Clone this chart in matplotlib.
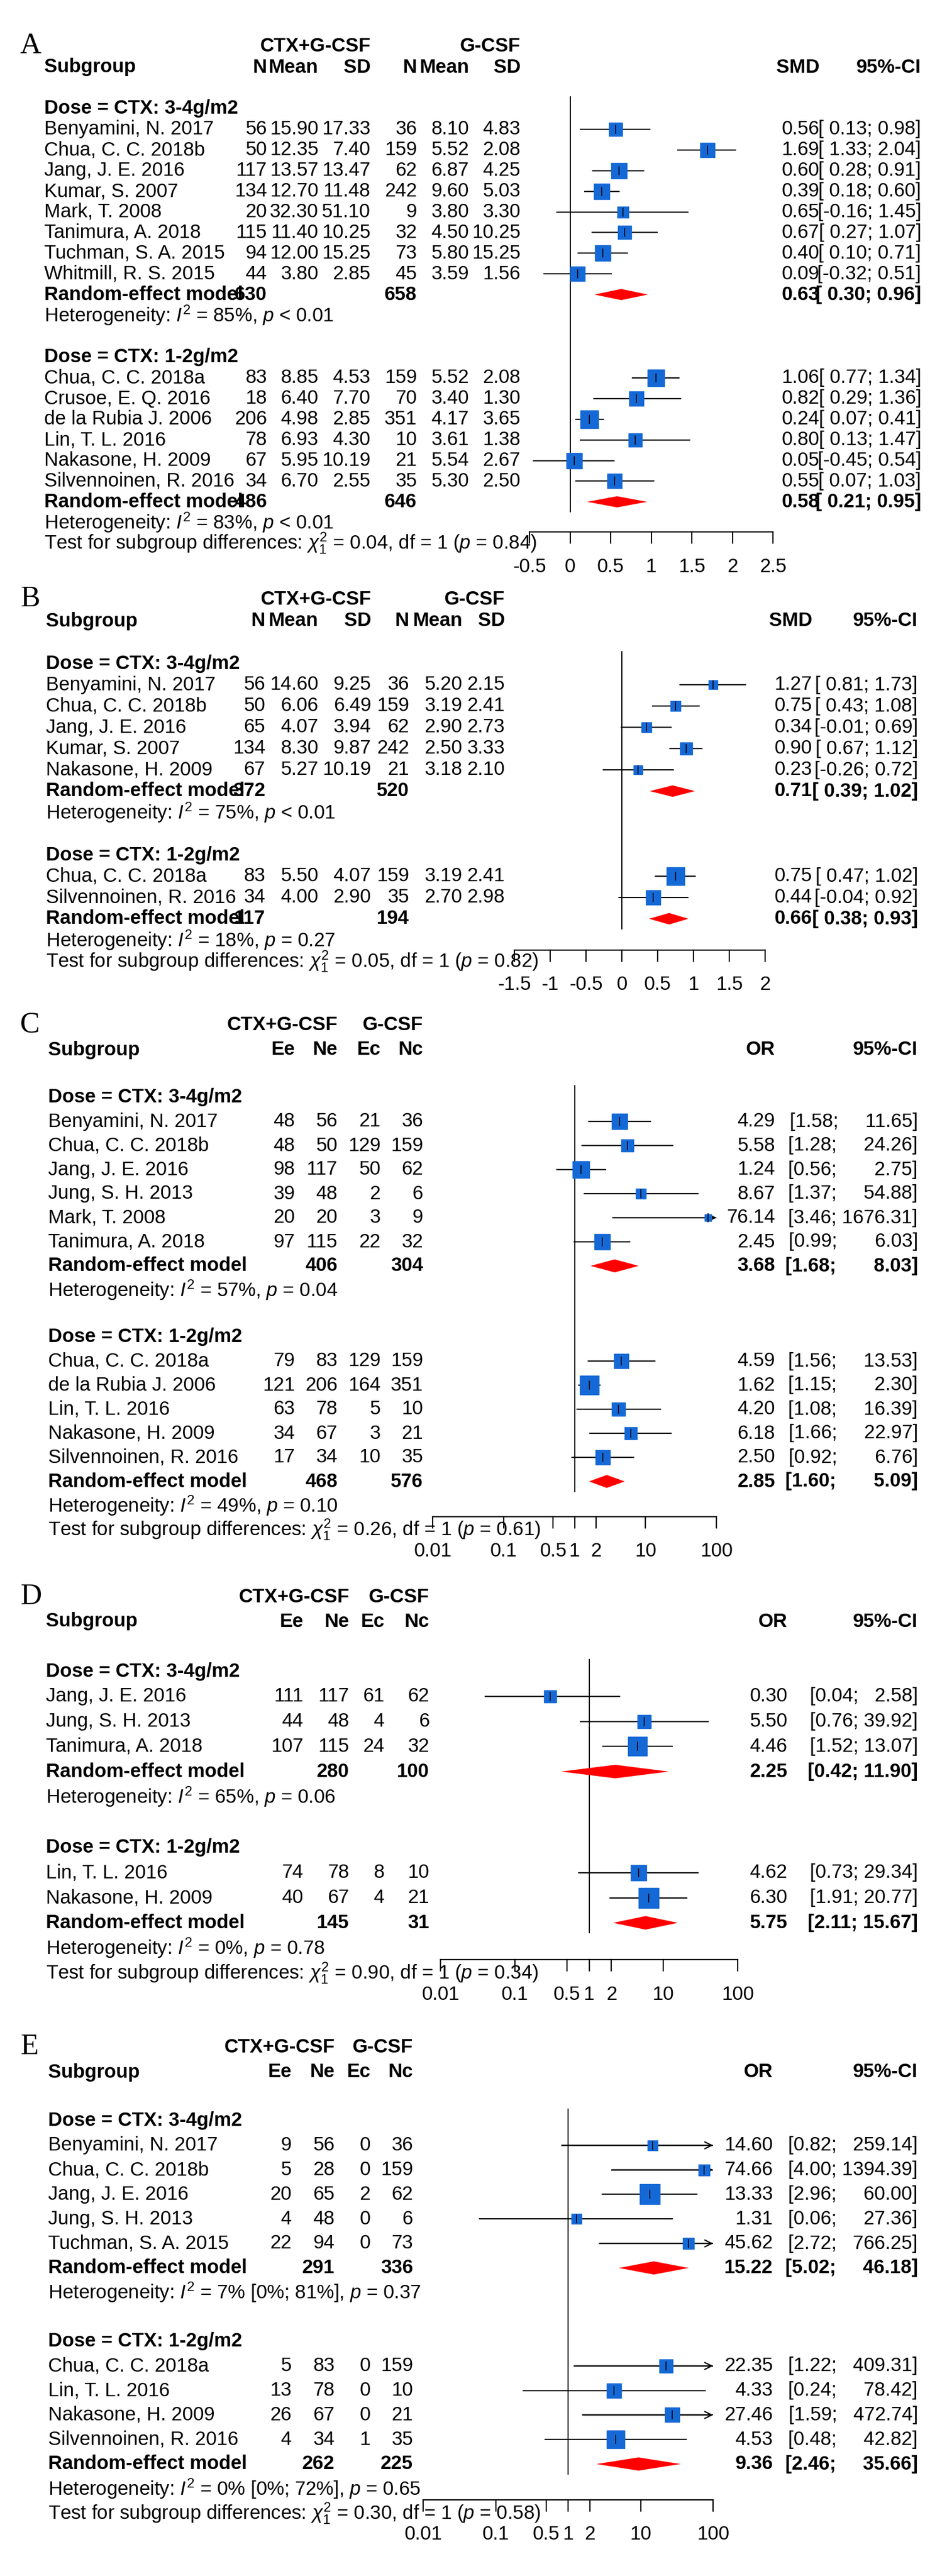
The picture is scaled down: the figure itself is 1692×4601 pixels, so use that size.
import numpy as np
import matplotlib
matplotlib.use('Agg')
import matplotlib.pyplot as plt
import matplotlib.font_manager as fm

# ---------------------------------------------------------------- fonts
_names = {f.name for f in fm.fontManager.ttflist}
BODY = 'Liberation Sans Narrow' if 'Liberation Sans Narrow' in _names else 'Liberation Sans'
FS = 27 if BODY.endswith('Narrow') else 25
plt.rcParams['font.family'] = [BODY, 'DejaVu Sans']
plt.rcParams['mathtext.fontset'] = 'custom'
plt.rcParams['mathtext.rm'] = BODY
plt.rcParams['mathtext.it'] = BODY + ':italic'
plt.rcParams['mathtext.bf'] = BODY + ':bold'

SQ_COLOR = '#1569D6'
DIA_COLOR = '#FF0000'
W, H = 1692, 4601

# ---------------------------------------------------------------- data A (SMD)
A_study = ['Benyamini, N. 2017', 'Chua, C. C. 2018b', 'Jang, J. E. 2016', 'Kumar, S. 2007',
           'Mark, T. 2008', 'Tanimura, A. 2018', 'Tuchman, S. A. 2015', 'Whitmill, R. S. 2015',
           'Chua, C. C. 2018a', 'Crusoe, E. Q. 2016', 'de la Rubia J. 2006', 'Lin, T. L. 2016',
           'Nakasone, H. 2009', 'Silvennoinen, R. 2016']
A_n_e = [56, 50, 117, 134, 20, 115, 94, 44, 83, 18, 206, 78, 67, 34]
A_mean_e = [15.90, 12.35, 13.57, 12.70, 32.30, 11.40, 12.00, 3.80, 8.85, 6.40, 4.98, 6.93, 5.95, 6.70]
A_sd_e = [17.33, 7.40, 13.47, 11.48, 51.10, 10.25, 15.25, 2.85, 4.53, 7.70, 2.85, 4.30, 10.19, 2.55]
A_n_c = [36, 159, 62, 242, 9, 32, 73, 45, 159, 70, 351, 10, 21, 35]
A_mean_c = [8.10, 5.52, 6.87, 9.60, 3.80, 4.50, 5.80, 3.59, 5.52, 3.40, 4.17, 3.61, 5.54, 5.30]
A_sd_c = [4.83, 2.08, 4.25, 5.03, 3.30, 10.25, 15.25, 1.56, 2.08, 1.30, 3.65, 1.38, 2.67, 2.50]
A_est = [0.56, 1.69, 0.60, 0.39, 0.65, 0.67, 0.40, 0.09, 1.06, 0.82, 0.24, 0.80, 0.05, 0.55]
A_lo = [0.13, 1.33, 0.28, 0.18, -0.16, 0.27, 0.10, -0.32, 0.77, 0.29, 0.07, 0.13, -0.45, 0.07]
A_hi = [0.98, 2.04, 0.91, 0.60, 1.45, 1.07, 0.71, 0.51, 1.34, 1.36, 0.41, 1.47, 0.54, 1.03]
A_size = [24, 26, 28, 28, 20, 24, 28, 26, 30, 26, 32, 24, 28, 26]
A_count = [8, 6]
A_re_est = [0.63, 0.58]
A_re_lo = [0.30, 0.21]
A_re_hi = [0.96, 0.95]
A_re_ne = [630, 486]
A_re_nc = [658, 646]
A_het = [r'85%, $p$ < 0.01', r'83%, $p$ < 0.01']
A_test = ['0.04', '0.84']

# ---------------------------------------------------------------- data B (SMD)
B_study = ['Benyamini, N. 2017', 'Chua, C. C. 2018b', 'Jang, J. E. 2016', 'Kumar, S. 2007',
           'Nakasone, H. 2009', 'Chua, C. C. 2018a', 'Silvennoinen, R. 2016']
B_n_e = [56, 50, 65, 134, 67, 83, 34]
B_mean_e = [14.60, 6.06, 4.07, 8.30, 5.27, 5.50, 4.00]
B_sd_e = [9.25, 6.49, 3.94, 9.87, 10.19, 4.07, 2.90]
B_n_c = [36, 159, 62, 242, 21, 159, 35]
B_mean_c = [5.20, 3.19, 2.90, 2.50, 3.18, 3.19, 2.70]
B_sd_c = [2.15, 2.41, 2.73, 3.33, 2.10, 2.41, 2.98]
B_est = [1.27, 0.75, 0.34, 0.90, 0.23, 0.75, 0.44]
B_lo = [0.81, 0.43, -0.01, 0.67, -0.26, 0.47, -0.04]
B_hi = [1.73, 1.08, 0.69, 1.12, 0.72, 1.02, 0.92]
B_size = [17, 18, 18, 22, 16, 32, 26]
B_count = [5, 2]
B_re_est = [0.71, 0.66]
B_re_lo = [0.39, 0.38]
B_re_hi = [1.02, 0.93]
B_re_ne = [372, 117]
B_re_nc = [520, 194]
B_het = [r'75%, $p$ < 0.01', r'18%, $p$ = 0.27']
B_test = ['0.05', '0.82']

# ---------------------------------------------------------------- data C (OR)
C_study = ['Benyamini, N. 2017', 'Chua, C. C. 2018b', 'Jang, J. E. 2016', 'Jung, S. H. 2013',
           'Mark, T. 2008', 'Tanimura, A. 2018', 'Chua, C. C. 2018a', 'de la Rubia J. 2006',
           'Lin, T. L. 2016', 'Nakasone, H. 2009', 'Silvennoinen, R. 2016']
C_ee = [48, 48, 98, 39, 20, 97, 79, 121, 63, 34, 17]
C_ne = [56, 50, 117, 48, 20, 115, 83, 206, 78, 67, 34]
C_ec = [21, 129, 50, 2, 3, 22, 129, 164, 5, 3, 10]
C_nc = [36, 159, 62, 6, 9, 32, 159, 351, 10, 21, 35]
C_est = [4.29, 5.58, 1.24, 8.67, 76.14, 2.45, 4.59, 1.62, 4.20, 6.18, 2.50]
C_lo = [1.58, 1.28, 0.56, 1.37, 3.46, 0.99, 1.56, 1.15, 1.08, 1.66, 0.92]
C_hi = [11.65, 24.26, 2.75, 54.88, 1676.31, 6.03, 13.53, 2.30, 16.39, 22.97, 6.76]
C_size = [28, 22, 30, 18, 12, 28, 26, 34, 24, 22, 26]
C_count = [6, 5]
C_re_est = [3.68, 2.85]
C_re_lo = [1.68, 1.60]
C_re_hi = [8.03, 5.09]
C_re_ne = [406, 468]
C_re_nc = [304, 576]
C_het = [r'57%, $p$ = 0.04', r'49%, $p$ = 0.10']
C_test = ['0.26', '0.61']

# ---------------------------------------------------------------- data D (OR)
D_study = ['Jang, J. E. 2016', 'Jung, S. H. 2013', 'Tanimura, A. 2018',
           'Lin, T. L. 2016', 'Nakasone, H. 2009']
D_ee = [111, 44, 107, 74, 40]
D_ne = [117, 48, 115, 78, 67]
D_ec = [61, 4, 24, 8, 4]
D_nc = [62, 6, 32, 10, 21]
D_est = [0.30, 5.50, 4.46, 4.62, 6.30]
D_lo = [0.04, 0.76, 1.52, 0.73, 1.91]
D_hi = [2.58, 39.92, 13.07, 29.34, 20.77]
D_size = [22, 24, 34, 28, 36]
D_count = [3, 2]
D_re_est = [2.25, 5.75]
D_re_lo = [0.42, 2.11]
D_re_hi = [11.90, 15.67]
D_re_ne = [280, 145]
D_re_nc = [100, 31]
D_het = [r'65%, $p$ = 0.06', r'0%, $p$ = 0.78']
D_test = ['0.90', '0.34']

# ---------------------------------------------------------------- data E (OR)
E_study = ['Benyamini, N. 2017', 'Chua, C. C. 2018b', 'Jang, J. E. 2016', 'Jung, S. H. 2013',
           'Tuchman, S. A. 2015', 'Chua, C. C. 2018a', 'Lin, T. L. 2016', 'Nakasone, H. 2009',
           'Silvennoinen, R. 2016']
E_ee = [9, 5, 20, 4, 22, 5, 13, 26, 4]
E_ne = [56, 28, 65, 48, 94, 83, 78, 67, 34]
E_ec = [0, 0, 2, 0, 0, 0, 0, 0, 1]
E_nc = [36, 159, 62, 6, 73, 159, 10, 21, 35]
E_est = [14.60, 74.66, 13.33, 1.31, 45.62, 22.35, 4.33, 27.46, 4.53]
E_lo = [0.82, 4.00, 2.96, 0.06, 2.72, 1.22, 0.24, 1.59, 0.48]
E_hi = [259.14, 1394.39, 60.00, 27.36, 766.25, 409.31, 78.42, 472.74, 42.82]
E_size = [18, 20, 36, 18, 20, 24, 26, 26, 32]
E_count = [5, 4]
E_re_est = [15.22, 9.36]
E_re_lo = [5.02, 2.46]
E_re_hi = [46.18, 35.66]
E_re_ne = [291, 262]
E_re_nc = [336, 225]
E_het = [r'7% [0%; 81%], $p$ = 0.37', r'0% [0%; 72%], $p$ = 0.65']
E_test = ['0.30', '0.58']

SMD_TICKS_A = [-0.5, 0, 0.5, 1, 1.5, 2, 2.5]
SMD_TICKS_B = [-1.5, -1, -0.5, 0, 0.5, 1, 1.5, 2]
OR_TICKS = [0.01, 0.1, 0.5, 1, 2, 10, 100]

fig = plt.figure(figsize=(W / 100, H / 100), dpi=100)
fig.patch.set_facecolor('white')
tx = fig.add_axes([0, 0, 1, 1])
tx.set_xlim(0, W)
tx.set_ylim(H, 0)
tx.axis('off')


def fmt_num(v):
    return f'{v:g}' if isinstance(v, int) else f'{v:.2f}'


def ci_text(lo, hi, smd, upper_width):
    if smd:
        lo_s = f'{lo:.2f}' if lo < 0 else ' ' + f'{lo:.2f}'
        return f'[{lo_s}; {hi:.2f}]'
    hs = f'{hi:.2f}'
    return f'[{lo:.2f}; ' + '  ' * (upper_width - len(hs)) + hs + ']'


def panel(letter, lay, cols, study, count, est, lo, hi, size,
          re_est, re_lo, re_hi, re_ne, re_nc, het, test, smd, ticks):
    # header
    tx.text(lay['letter_x'], lay['hdr_y'], letter, family=['Liberation Serif'],
            fontsize=38, va='center', ha='left')
    tx.text(lay['ctx_right'], lay['hdr_y'], 'CTX+G-CSF', fontsize=FS, weight='bold',
            ha='right', va='center')
    tx.text(lay['col_x'][-1], lay['hdr_y'], 'G-CSF', fontsize=FS, weight='bold',
            ha='right', va='center')
    tx.text(lay['sub_x'], lay['sub_y'], 'Subgroup', fontsize=FS, weight='bold', va='center')
    heads = ['N', 'Mean', 'SD', 'N', 'Mean', 'SD'] if smd else ['Ee', 'Ne', 'Ec', 'Nc']
    for x, h in zip(lay['col_x'], heads):
        tx.text(x, lay['sub_y'], h, fontsize=FS, weight='bold', ha='right', va='center')
    tx.text(lay['est_x'], lay['sub_y'], 'SMD' if smd else 'OR', fontsize=FS,
            weight='bold', ha='right', va='center')
    tx.text(lay['ci_x'], lay['sub_y'], '95%-CI', fontsize=FS, weight='bold',
            ha='right', va='center')

    # forest axes, x in effect units
    x0, x1 = lay['ax_px']
    fx = fig.add_axes([x0 / W, 0, (x1 - x0) / W, 1])
    fx.set_ylim(H, 0)
    if not smd:
        fx.set_xscale('log')
    xmin, xmax = ticks[0], ticks[-1]
    fx.set_xlim(xmin, xmax)
    fx.axis('off')
    fx.patch.set_alpha(0)

    uw = max(len(f'{h:.2f}') for h in hi)
    sp = lay['sp']
    start = 0
    bottom = 0
    for g in range(2):
        dy = lay['dose_y'][g]
        tx.text(lay['sub_x'], dy, 'Dose = CTX: 3-4g/m2' if g == 0 else 'Dose = CTX: 1-2g/m2',
                fontsize=FS, weight='bold', va='center')
        for k in range(count[g]):
            i = start + k
            y = dy + (k + 1) * sp
            tx.text(lay['sub_x'], y, study[i], fontsize=FS, va='center')
            for x, v in zip(lay['col_x'], [c[i] for c in cols]):
                tx.text(x, y, fmt_num(v), fontsize=FS, ha='right', va='center')
            tx.text(lay['est_x'], y, f'{est[i]:.2f}', fontsize=FS, ha='right', va='center')
            tx.text(lay['ci_x'], y, ci_text(lo[i], hi[i], smd, uw), fontsize=FS,
                    ha='right', va='center')
            # whisker
            l, h = max(lo[i], xmin), min(hi[i], xmax)
            fx.plot([l, h], [y, y], color='black', lw=1.6, zorder=2)
            if hi[i] > xmax:
                fx.annotate('', xy=(xmax, y), xytext=(max(lo[i], xmin), y),
                            arrowprops=dict(arrowstyle='->', color='black', lw=1.6,
                                            mutation_scale=22, shrinkA=0, shrinkB=0))
            fx.plot(est[i], y, marker='s', ms=size[i] / 1.389, color=SQ_COLOR,
                    mec=SQ_COLOR, zorder=3, clip_on=False)
            fx.plot(est[i], y, marker='|', ms=12, color='black', mew=1.2, zorder=4,
                    clip_on=False)
        y = dy + (count[g] + 1) * sp
        tx.text(lay['sub_x'], y, 'Random-effect model', fontsize=FS, weight='bold', va='center')
        for x, v in zip([lay['col_x'][0 if smd else 1], lay['col_x'][3]], [re_ne[g], re_nc[g]]):
            tx.text(x, y, str(v), fontsize=FS, weight='bold', ha='right', va='center')
        tx.text(lay['est_x'], y, f'{re_est[g]:.2f}', fontsize=FS, weight='bold',
                ha='right', va='center')
        tx.text(lay['ci_x'], y, ci_text(re_lo[g], re_hi[g], smd, uw), fontsize=FS,
                weight='bold', ha='right', va='center')
        dh = sp * 0.27
        fx.fill([re_lo[g], re_est[g], re_hi[g], re_est[g]], [y, y - dh, y, y + dh],
                color=DIA_COLOR, lw=0, zorder=3)
        tx.text(lay['sub_x'], y + sp, r'Heterogeneity: $I^2$ = ' + het[g], fontsize=FS,
                va='center')
        bottom = y
        start += count[g]
    tx.text(lay['sub_x'], bottom + 2 * sp,
            r'Test for subgroup differences: $\chi^2_1$ = ' + test[0] +
            r', df = 1 ($p$ = ' + test[1] + ')', fontsize=FS, va='center')

    # reference line
    ref = 0 if smd else 1
    fx.plot([ref, ref], [lay['dose_y'][0] - 21, bottom + 18], color='black', lw=1.4)

    # x axis
    ay = lay['axis_y']
    fx.plot([xmin, xmax], [ay, ay], color='black', lw=1.6, clip_on=False)
    for t in ticks:
        fx.plot([t, t], [ay, ay + 20], color='black', lw=1.6, clip_on=False)
        lab = f'{t:g}'
        fx.text(t, ay + 62, lab, fontsize=FS, ha='center', va='center')


panel('A', dict(letter_x=36, hdr_y=82, sub_y=120, sub_x=79, dose_y=[194, 638], sp=36.9,
                col_x=[477, 569, 662, 745, 838, 930], ctx_right=662, est_x=1464, ci_x=1646,
                ax_px=(946, 1381), axis_y=950),
      [A_n_e, A_mean_e, A_sd_e, A_n_c, A_mean_c, A_sd_c], A_study, A_count, A_est, A_lo,
      A_hi, A_size, A_re_est, A_re_lo, A_re_hi, A_re_ne, A_re_nc, A_het, A_test, True,
      SMD_TICKS_A)

panel('B', dict(letter_x=36, hdr_y=1070, sub_y=1109, sub_x=82, dose_y=[1185, 1527], sp=38,
                col_x=[474, 569, 663, 731, 826, 902], ctx_right=663, est_x=1451, ci_x=1640,
                ax_px=(919, 1367), axis_y=1697),
      [B_n_e, B_mean_e, B_sd_e, B_n_c, B_mean_c, B_sd_c], B_study, B_count, B_est, B_lo,
      B_hi, B_size, B_re_est, B_re_lo, B_re_hi, B_re_ne, B_re_nc, B_het, B_test, True,
      SMD_TICKS_B)

panel('C', dict(letter_x=36, hdr_y=1831, sub_y=1875, sub_x=86, dose_y=[1960, 2388], sp=43,
                col_x=[527, 603, 680, 756], ctx_right=603, est_x=1385, ci_x=1640,
                ax_px=(773, 1280), axis_y=2709),
      [C_ee, C_ne, C_ec, C_nc], C_study, C_count, C_est, C_lo, C_hi, C_size,
      C_re_est, C_re_lo, C_re_hi, C_re_ne, C_re_nc, C_het, C_test, False, OR_TICKS)

panel('D', dict(letter_x=36, hdr_y=2852, sub_y=2896, sub_x=82, dose_y=[2985, 3300], sp=44.8,
                col_x=[542, 624, 687, 767], ctx_right=624, est_x=1407, ci_x=1640,
                ax_px=(787, 1318), axis_y=3500),
      [D_ee, D_ne, D_ec, D_nc], D_study, D_count, D_est, D_lo, D_hi, D_size,
      D_re_est, D_re_lo, D_re_hi, D_re_ne, D_re_nc, D_het, D_test, False, OR_TICKS)

panel('E', dict(letter_x=36, hdr_y=3656, sub_y=3701, sub_x=86, dose_y=[3788, 4182], sp=43.8,
                col_x=[521, 598, 662, 738], ctx_right=598, est_x=1381, ci_x=1640,
                ax_px=(756, 1274), axis_y=4465),
      [E_ee, E_ne, E_ec, E_nc], E_study, E_count, E_est, E_lo, E_hi, E_size,
      E_re_est, E_re_lo, E_re_hi, E_re_ne, E_re_nc, E_het, E_test, False, OR_TICKS)

fig.savefig('out.png', dpi=100)
